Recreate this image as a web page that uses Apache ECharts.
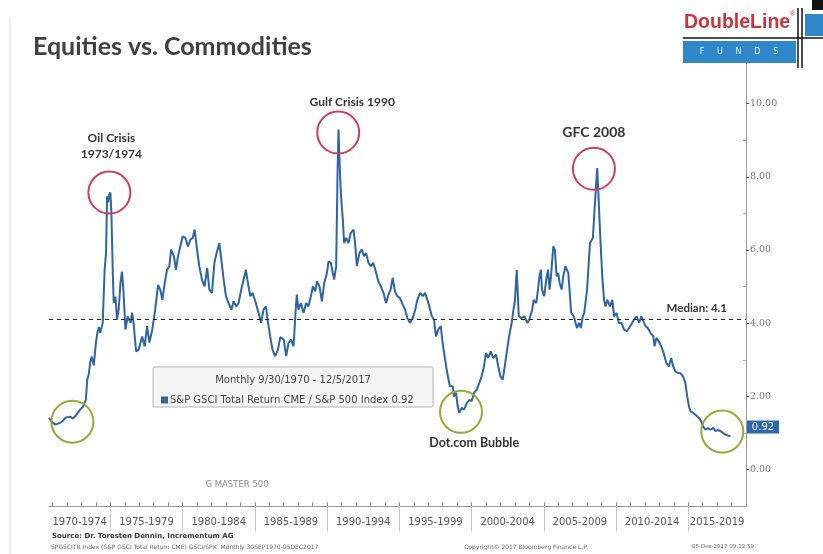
<!DOCTYPE html>
<html><head><meta charset="utf-8">
<script src="https://cdn.jsdelivr.net/npm/echarts@6/dist/echarts.min.js"></script>
<style>html,body{margin:0;padding:0;background:#fff}#c{width:823px;height:554px}</style>
</head><body><div id="c"></div>
<script>
// ---- data ----
const years = [
1970.75,1970.95,1971.2,1971.5,1971.7,1971.9,1972.2,1972.4,1972.6,1972.9,1973.1,1973.3,1973.4,1973.5,1973.6,1973.7,1973.85,
1974.0,1974.1,1974.2,1974.3,1974.47,1974.6,1974.7,1974.77,1974.85,1974.92,1975.0,1975.07,1975.16,1975.23,1975.35,1975.46,1975.57,1975.7,1975.8,1975.9,
1976.04,1976.2,1976.4,1976.5,1976.6,1976.78,1976.96,1977.2,1977.37,1977.54,1977.7,1977.9,1978.1,1978.3,1978.45,1978.6,1978.76,1978.92,
1979.08,1979.2,1979.4,1979.54,1979.68,1979.84,1980.0,1980.19,1980.37,1980.53,1980.7,1980.83,1981.0,1981.15,1981.34,1981.52,1981.7,1981.85,
1982.03,1982.2,1982.38,1982.54,1982.68,1982.84,1983.0,1983.18,1983.37,1983.53,1983.7,1983.87,1984.06,1984.22,1984.38,1984.52,1984.68,1984.84,
1985.03,1985.26,1985.44,1985.6,1985.77,1985.9,1986.06,1986.22,1986.4,1986.6,1986.76,1987.0,1987.17,1987.33,1987.5,1987.68,1987.8,1987.9,
1988.02,1988.19,1988.37,1988.55,1988.71,1988.88,1989.02,1989.18,1989.3,1989.47,1989.64,1989.8,1989.99,1990.1,1990.26,1990.4,1990.49,1990.63,
1990.72,1990.79,1990.86,1990.95,1991.09,1991.18,1991.32,1991.48,1991.64,1991.83,1991.94,1992.06,1992.24,1992.4,1992.56,1992.7,1992.86,
1993.03,1993.2,1993.4,1993.55,1993.72,1993.9,1994.08,1994.25,1994.4,1994.54,1994.7,1994.86,1995.04,1995.24,1995.4,1995.56,1995.74,1995.93,
1996.1,1996.25,1996.44,1996.63,1996.78,1996.94,1997.08,1997.25,1997.4,1997.54,1997.7,1997.87,1998.0,1998.17,1998.32,1998.5,1998.7,1998.78,1998.93,
1999.04,1999.15,1999.32,1999.48,1999.67,1999.85,2000.0,2000.17,2000.36,2000.54,2000.7,2000.86,2001.0,2001.16,2001.33,2001.5,2001.7,2001.85,
2002.0,2002.16,2002.3,2002.4,2002.6,2002.78,2002.9,2003.0,2003.13,2003.27,2003.45,2003.67,2003.86,2004.0,2004.2,2004.3,2004.48,2004.6,2004.7,2004.8,2004.88,
2005.03,2005.2,2005.3,2005.4,2005.5,2005.66,2005.77,2005.89,2006.0,2006.1,2006.24,2006.35,2006.5,2006.7,2006.8,2006.9,
2007.08,2007.2,2007.3,2007.45,2007.57,2007.7,2007.8,2008.0,2008.1,2008.2,2008.4,2008.5,2008.7,2008.77,2008.9,
2009.05,2009.17,2009.28,2009.4,2009.58,2009.75,2009.86,2010.04,2010.2,2010.37,2010.55,2010.73,2010.9,
2011.05,2011.25,2011.43,2011.6,2011.76,2011.9,2012.05,2012.2,2012.4,2012.58,2012.67,2012.8,2012.97,
2013.13,2013.3,2013.48,2013.66,2013.82,2013.96,2014.1,2014.28,2014.45,2014.64,2014.8,2014.93,
2015.05,2015.16,2015.35,2015.5,2015.6,2015.74,2015.9,2016.04,2016.2,2016.36,2016.54,2016.73,2016.9,
2017.05,2017.24,2017.42,2017.58,2017.75,2017.93
];
const ratio = [
1.42,1.30,1.23,1.28,1.33,1.42,1.45,1.40,1.47,1.64,1.72,1.91,2.46,2.60,2.92,3.09,2.85,
3.47,3.74,3.90,3.74,4.01,5.46,5.93,7.47,7.30,7.51,7.57,7.02,5.46,4.56,4.73,4.10,4.37,5.10,5.41,4.92,
3.83,4.19,4.01,4.29,4.02,3.23,3.28,3.64,3.37,3.92,3.47,3.83,4.37,5.05,4.92,4.64,5.10,5.46,
5.56,6.01,5.83,5.46,5.83,6.10,6.37,6.33,6.10,6.28,6.33,6.56,6.01,5.56,5.19,5.01,5.51,4.92,
4.83,5.65,5.96,6.19,5.74,5.19,4.74,4.55,4.37,4.60,4.46,4.55,4.92,5.19,5.46,5.10,4.74,4.83,
4.60,4.28,4.01,4.37,4.46,4.05,3.64,3.28,3.10,3.28,3.62,3.55,3.10,3.46,3.55,3.37,4.19,4.78,
4.37,4.55,4.28,4.55,4.46,4.74,5.01,4.87,5.14,5.01,4.60,5.10,5.37,5.69,5.65,5.37,5.19,5.56,
8.01,9.29,8.47,7.56,6.83,6.19,6.33,6.19,6.47,6.56,6.19,5.56,5.92,6.01,5.83,5.92,5.65,
5.56,5.65,5.37,5.14,5.01,4.83,4.55,4.78,4.92,5.24,4.87,4.74,4.69,4.51,4.37,4.14,4.01,4.14,
4.37,4.64,4.83,4.74,4.83,4.64,4.46,4.19,4.10,3.64,3.83,3.92,3.46,3.01,2.64,2.28,2.28,2.00,2.10,
1.73,1.55,1.69,1.64,1.82,1.91,1.87,2.10,2.19,2.37,2.55,2.82,3.19,3.05,3.23,3.05,3.14,2.82,
2.55,2.46,2.82,3.10,3.64,4.01,4.37,4.60,5.45,4.20,4.14,4.19,4.01,4.10,4.37,4.64,4.55,4.92,5.28,5.46,4.92,
4.74,5.28,5.46,4.92,5.28,6.10,6.01,5.28,5.37,5.10,4.92,5.28,5.56,5.37,4.83,4.28,
4.19,4.01,3.87,4.01,3.87,4.19,4.28,4.92,5.56,6.19,6.33,7.01,8.24,7.65,6.47,
5.28,4.64,4.46,4.64,4.46,4.64,4.19,4.28,4.01,4.01,3.83,3.78,3.87,
3.96,4.10,4.19,4.01,4.19,4.05,3.92,3.87,3.73,3.64,3.37,3.60,3.50,
3.37,3.19,2.92,2.82,3.05,2.82,2.69,2.64,2.64,2.55,2.37,2.00,
1.73,1.59,1.55,1.50,1.55,1.41,1.32,1.18,1.09,1.14,1.09,1.14,1.05,
1.09,1.05,1.00,0.96,0.93,0.92
];
const seriesName = 'S&P GSCI Total Return CME / S&P 500 Index';
const periodLabels = ['1970-1974','1975-1979','1980-1984','1985-1989','1990-1994','1995-1999','2000-2004','2005-2009','2010-2014','2015-2019'];
const periodCenters = [1972.875,1977.5,1982.5,1987.5,1992.5,1997.5,2002.5,2007.5,2012.5,2017];
const periodBreaks = [1975,1980,1985,1990,1995,2000,2005,2010,2015];
const yearTicks = [1971,1972,1973,1974,1975,1976,1977,1978,1979,1980,1981,1982,1983,1984,1985,1986,1987,1988,1989,1990,1991,1992,1993,1994,1995,1996,1997,1998,1999,2000,2001,2002,2003,2004,2005,2006,2007,2008,2009,2010,2011,2012,2013,2014,2015,2016,2017,2018];
const yMajorTicks = [0,2,4,6,8,10];
const yMinorTicks = [1,3,5,7,9];
const medianValue = 4.1;
const lastValue = 0.92;
// annotations (data coordinates)
const redCircles = [[1974.93,7.57],[1990.77,9.21],[2008.47,8.22]];
const greenCircles = [[1972.37,1.31],[1999.27,1.58],[2017.36,1.04]];
const eventLabels = [
  {text:'Oil Crisis\n1973/1974', at:[1975.07,8.85], size:12},
  {text:'Gulf Crisis 1990', at:[1991.74,10.05], size:12},
  {text:'GFC 2008', at:[2008.47,9.21], size:14},
  {text:'Dot.com Bubble', at:[2000.18,0.74], size:12.5}
];

const seriesData = years.map((y,i)=>[y, ratio[i]]);
const chart = echarts.init(document.getElementById('c'), null, {renderer:'canvas'});

const markPts = [];
redCircles.forEach(c=>markPts.push({coord:c, symbol:'circle', symbolSize:42,
  itemStyle:{color:'rgba(0,0,0,0)', borderColor:'#cf3d5c', borderWidth:2}, label:{show:false}}));
greenCircles.forEach(c=>markPts.push({coord:c, symbol:'circle', symbolSize:42,
  itemStyle:{color:'rgba(0,0,0,0)', borderColor:'#9aa63c', borderWidth:2}, label:{show:false}}));
eventLabels.forEach(e=>markPts.push({coord:e.at, symbol:'circle', symbolSize:1,
  itemStyle:{color:'rgba(0,0,0,0)'},
  label:{show:true, position:'inside', formatter:e.text, fontFamily:'Lato', fontWeight:'bold', fontSize:e.size, color:'#333', lineHeight:e.size+4}}));
markPts.push({coord:[2019, lastValue], symbol:'rect', symbolSize:[32,13], symbolOffset:[17,-9],
  itemStyle:{color:'#2b68ad'},
  label:{show:true, position:'inside', formatter:lastValue.toFixed(2), color:'#fff', fontSize:10, fontFamily:'DejaVu Sans'}});

const option = {
  animation:false,
  backgroundColor:'#fff',
  grid:{left:49, right:77, top:63.3, bottom:47.7, containLabel:false},
  legend:{show:true, left:156, top:390, icon:'rect', itemWidth:7, itemHeight:7, itemGap:0,
    data:[seriesName],
    formatter:n=>n+' '+lastValue.toFixed(2),
    textStyle:{fontFamily:'DejaVu Sans', fontSize:10, color:'#444', padding:[0,0,0,-3]}},
  xAxis:[
    {type:'value', min:1970.75, max:2019, position:'bottom',
     axisLine:{show:true, onZero:false, lineStyle:{color:'#9a9a9a', width:1}},
     axisTick:{show:true, inside:true, length:4, customValues:yearTicks, lineStyle:{color:'#8a8a8a'}},
     axisLabel:{show:true, customValues:periodCenters, margin:11, color:'#555', fontSize:10, fontFamily:'DejaVu Sans',
       formatter:v=>{const i=periodCenters.findIndex(c=>Math.abs(c-v)<0.01); return i>=0?periodLabels[i]:'';}},
     splitLine:{show:false}},
    {type:'value', min:1970.75, max:2019, position:'bottom',
     axisLine:{show:false, onZero:false},
     axisTick:{show:true, inside:false, length:25, customValues:periodBreaks, lineStyle:{color:'#c8c8c8'}},
     axisLabel:{show:false}, splitLine:{show:false}}
  ],
  yAxis:[
    {type:'value', position:'right', min:-1, max:11.1,
     axisLine:{show:true, onZero:false, lineStyle:{color:'#9a9a9a'}},
     axisTick:{show:true, inside:false, length:3, customValues:yMajorTicks, lineStyle:{color:'#555'}},
     axisLabel:{show:true, customValues:yMajorTicks, margin:4, color:'#777', fontSize:9.5, fontFamily:'DejaVu Serif',
       formatter:v=>v.toFixed(2)},
     splitLine:{show:false}},
    {type:'value', position:'right', min:-1, max:11.1,
     axisLine:{show:false, onZero:false},
     axisTick:{show:true, inside:true, length:3, customValues:yMinorTicks, lineStyle:{color:'#aaa'}},
     axisLabel:{show:false}, splitLine:{show:false}}
  ],
  series:[{
    name:seriesName, type:'line', data:seriesData, showSymbol:false, symbol:'none',
    lineStyle:{color:'#2f64a3', width:2}, itemStyle:{color:'#2f64a3'},
    markLine:{silent:true, symbol:'none',
      data:[{yAxis:medianValue}],
      lineStyle:{type:[4,4], color:'#222', width:1.2},
      label:{show:true, position:'insideEndTop', formatter:'Median: '+medianValue, fontFamily:'Lato', fontWeight:'bold', fontSize:11.5, color:'#333', padding:[0,14,0,0]}},
    markPoint:{silent:true, data:markPts}
  }],
  graphic:[
    {type:'line', shape:{x1:10,y1:18,x2:10,y2:554}, style:{stroke:'#d8d8d8', lineWidth:1}},
    {type:'text', x:33, y:47, style:{text:'Equities vs. Commodities', font:'bold 25px Lato', fill:'#404040', textVerticalAlign:'middle', verticalAlign:'middle'}},
    // logo
    {type:'text', x:684, y:23, style:{text:'DoubleLine', font:'bold 19.5px "Liberation Sans"', fill:'#c9353c', textVerticalAlign:'middle', verticalAlign:'middle'}},
    {type:'text', x:790, y:11, style:{text:'®', font:'7px "Liberation Sans"', fill:'#c9353c'}},
    {type:'rect', shape:{x:805,y:14,width:18,height:22}, style:{fill:'#2f86c9'}},
    {type:'line', shape:{x1:683,y1:38,x2:823,y2:38}, style:{stroke:'#111', lineWidth:1.5}},
    {type:'rect', shape:{x:683,y:41,width:113,height:22}, style:{fill:'#2f86c9'}},
    {type:'text', x:739, y:52, style:{text:'F     U     N     D     S', font:'8px "DejaVu Sans"', fill:'#e8f1fa', textAlign:'center', align:'center', textVerticalAlign:'middle', verticalAlign:'middle'}},
    {type:'line', shape:{x1:798,y1:8,x2:798,y2:68}, style:{stroke:'#111', lineWidth:1.5}},
    {type:'line', shape:{x1:802,y1:8,x2:802,y2:68}, style:{stroke:'#111', lineWidth:1.5}},
    {type:'rect', shape:{x:812,y:0,width:11,height:10}, style:{fill:'#111'}},
    // legend box
    {type:'rect', z:-1, shape:{x:153,y:367,width:280,height:40,r:2}, style:{fill:'#f4f4f4', stroke:'#b5b5b5', lineWidth:1}},
    {type:'text', x:293, y:380, style:{text:'Monthly 9/30/1970 - 12/5/2017', font:'10px "DejaVu Sans"', fill:'#444', textAlign:'center', align:'center', textVerticalAlign:'middle', verticalAlign:'middle'}},
    {type:'text', x:237, y:485, style:{text:'G MASTER 500', font:'8.5px "DejaVu Sans"', fill:'#8a8a8a', textAlign:'center', align:'center', textVerticalAlign:'middle', verticalAlign:'middle'}},
    // source texts
    {type:'text', x:52, y:536, style:{text:'Source: Dr. Toresten Dennin, Incrementum AG', font:'bold 7px "DejaVu Sans"', fill:'#333', textVerticalAlign:'middle', verticalAlign:'middle'}},
    {type:'text', x:51, y:547, style:{text:'SPGSCITR Index (S&P GSCI Total Return CME) GSCI/SPX  Monthly 30SEP1970-05DEC2017', font:'6px "DejaVu Sans"', fill:'#666', textVerticalAlign:'middle', verticalAlign:'middle'}},
    {type:'text', x:526, y:547, style:{text:'Copyright© 2017 Bloomberg Finance L.P.', font:'6px "DejaVu Sans"', fill:'#666', textAlign:'center', align:'center', textVerticalAlign:'middle', verticalAlign:'middle'}},
    {type:'text', x:723, y:547, style:{text:'05-Dec-2017 09:12:59', font:'5.5px "DejaVu Sans"', fill:'#666', textAlign:'center', align:'center', textVerticalAlign:'middle', verticalAlign:'middle'}}
  ]
};
chart.setOption(option);
</script></body></html>
